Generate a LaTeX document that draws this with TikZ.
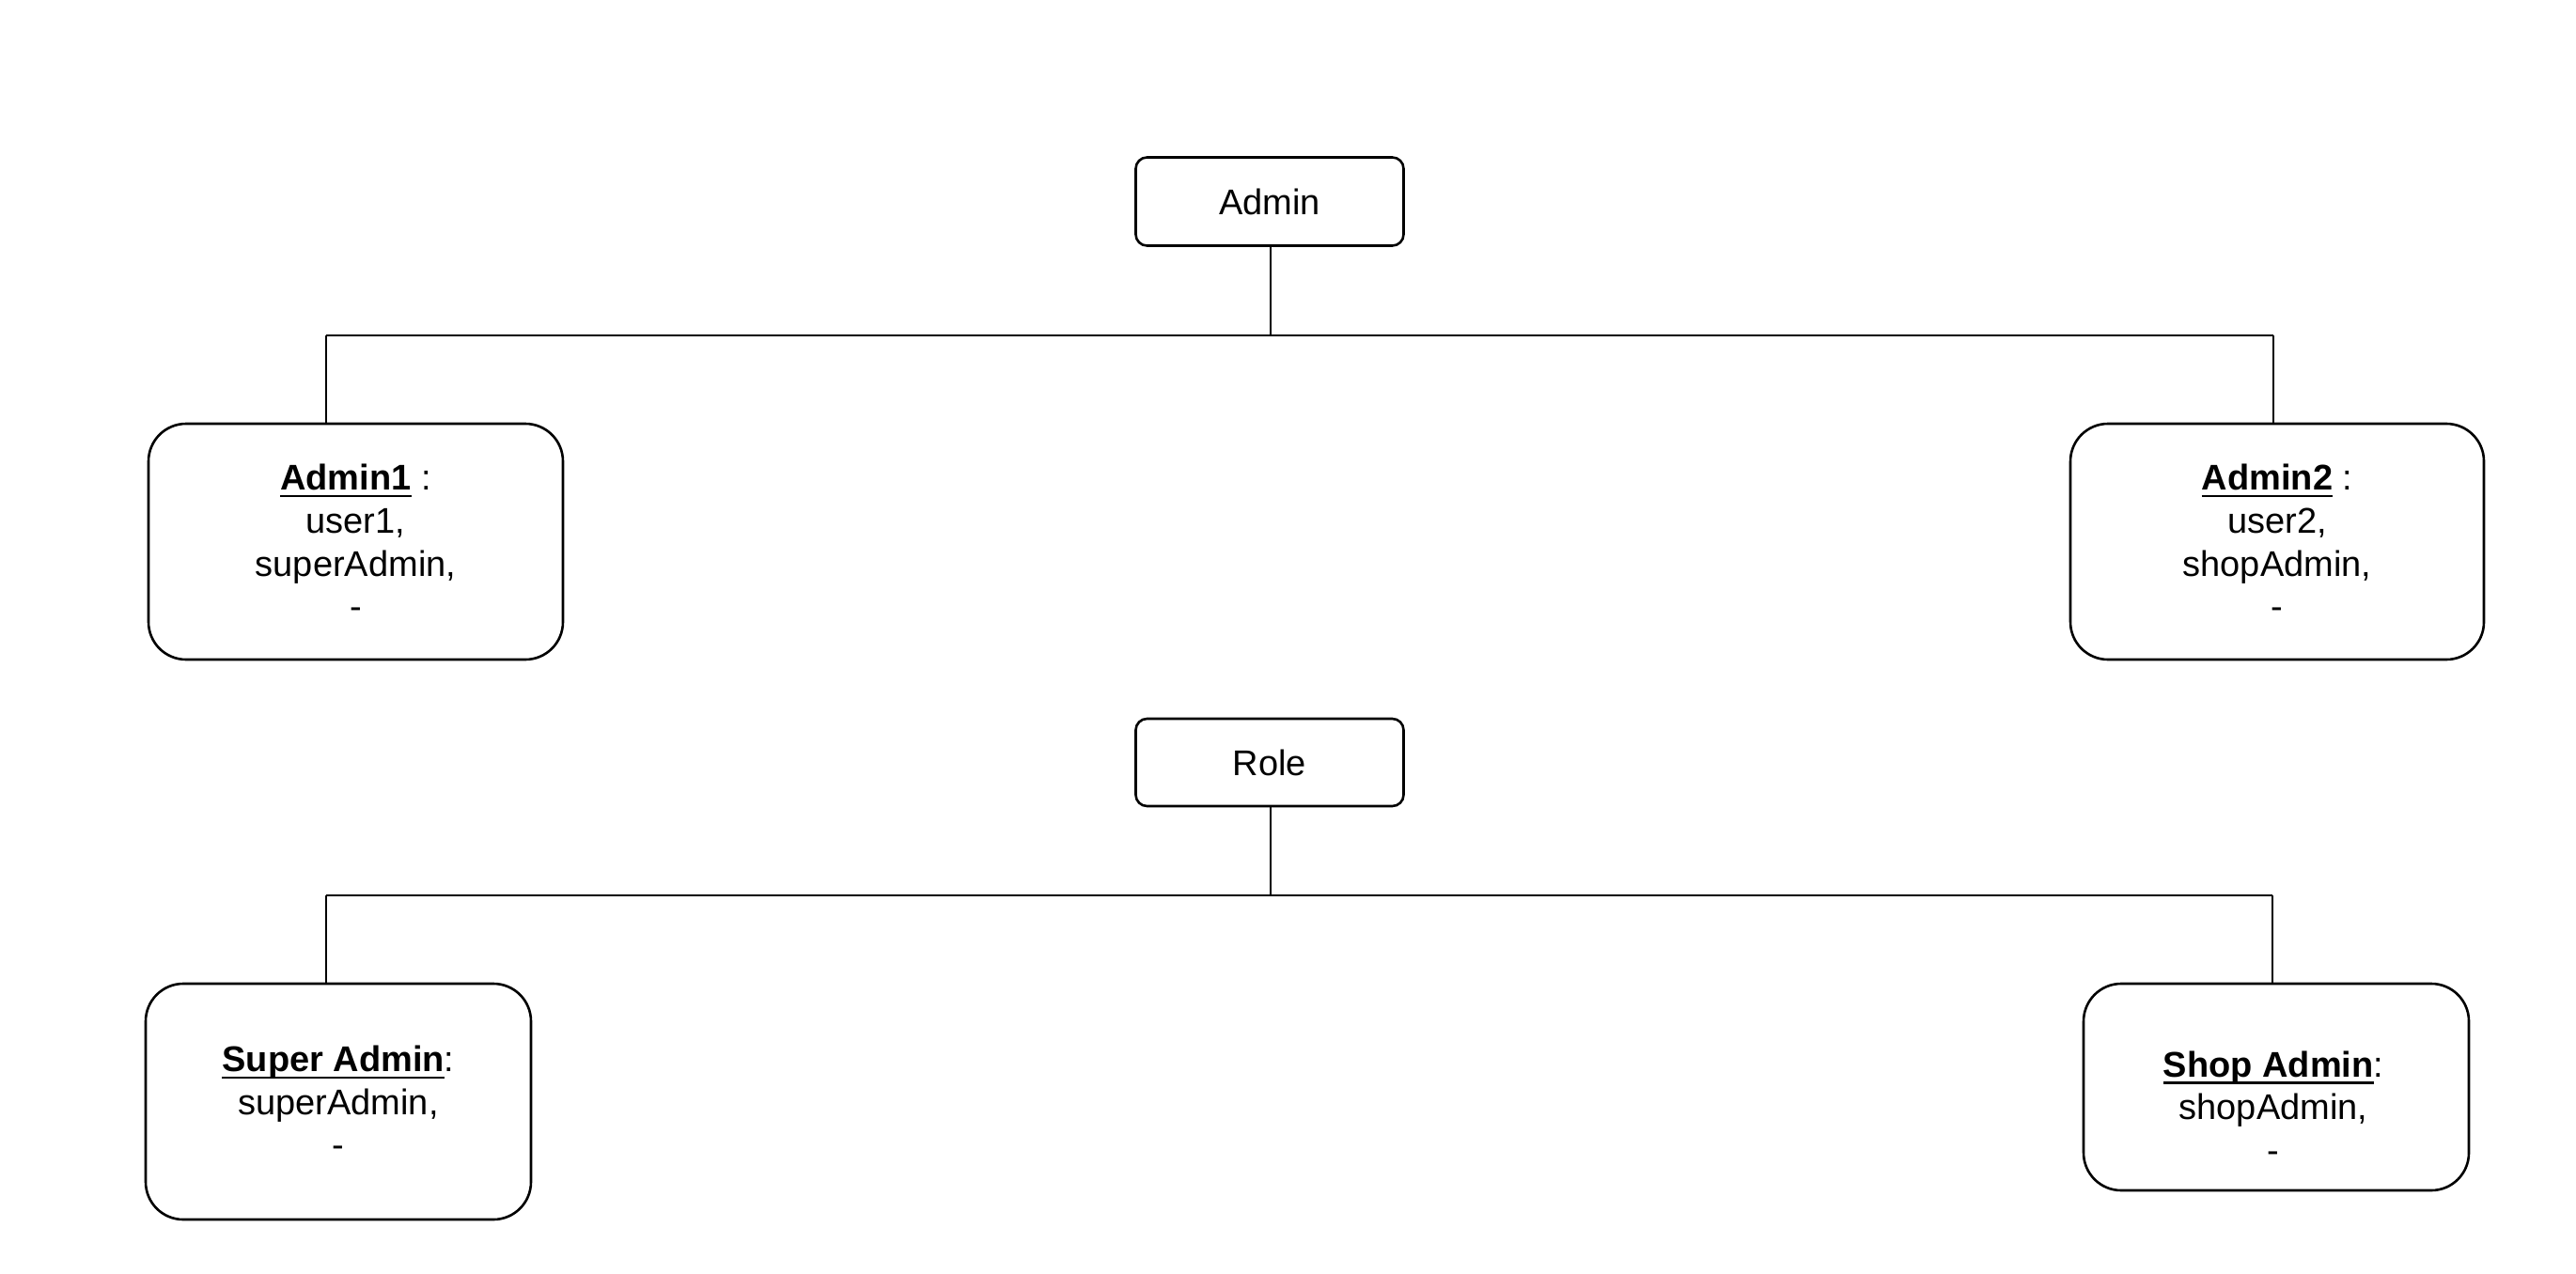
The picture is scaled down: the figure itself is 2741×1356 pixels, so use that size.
\documentclass[tikz,border=0pt]{standalone}
\usepackage{fontspec}
\setmainfont{Liberation Sans}
% underline set at a fixed distance below the baseline
\newcommand\uline[1]{\setbox0\hbox{#1}\rlap{\rule[-7.5pt]{\wd0}{2.6pt}}\box0\relax}
\begin{document}
\begin{tikzpicture}[x=1pt,y=-1pt,
  line width=2.6pt,
  every node/.style={font=\fontsize{38}{45.6}\selectfont, align=center, inner sep=0pt},
  smallbox/.style={draw, rectangle, rounded corners=12pt, minimum width=285pt, minimum height=94pt},
  bigbox/.style={draw, rectangle, rounded corners=40pt},
  link/.style={draw, line width=2.6pt}]
\useasboundingbox (0,0) rectangle (2741,1356);

% hierarchy of admins
\node[smallbox] (admin) at (1351,214.5) {Admin};
\node[bigbox, minimum width=441pt, minimum height=251pt] (a1) at (378.5,576.5)
  {\uline{\textbf{Admin1}} :\\ user1,\\ superAdmin,\\ -};
\node[bigbox, minimum width=440pt, minimum height=251pt] (a2) at (2423,576.5)
  {\uline{\textbf{Admin2}} :\\ user2,\\ shopAdmin,\\ -};
\coordinate (ja) at (1352,357);
\coordinate (ja1) at (347,357);
\coordinate (ja2) at (2419,357);
\draw[link] (admin.south -| ja) -- (ja);
\draw[link] (ja1) -- (ja2);
\draw[link] (ja1) -- (ja1 |- a1.north);
\draw[link] (ja2) -- (ja2 |- a2.north);

% hierarchy of roles
\node[smallbox, minimum height=93pt] (role) at (1351,811.5) {Role};
\node[bigbox, minimum width=410pt, minimum height=251pt] (sa) at (360,1172.5)
  {\uline{\textbf{Super Admin}}:\\ superAdmin,\\ -};
\node[bigbox, minimum width=410pt, minimum height=220pt] (sh) at (2422,1157) {};
\node (shtext) at (2419,1178) {\uline{\textbf{Shop Admin}}:\\ shopAdmin,\\ -};
\coordinate (jr) at (1352,953);
\coordinate (jr1) at (347,953);
\coordinate (jr2) at (2418,953);
\draw[link] (role.south -| jr) -- (jr);
\draw[link] (jr1) -- (jr2);
\draw[link] (jr1) -- (jr1 |- sa.north);
\draw[link] (jr2) -- (jr2 |- sh.north);
\end{tikzpicture}
\end{document}
